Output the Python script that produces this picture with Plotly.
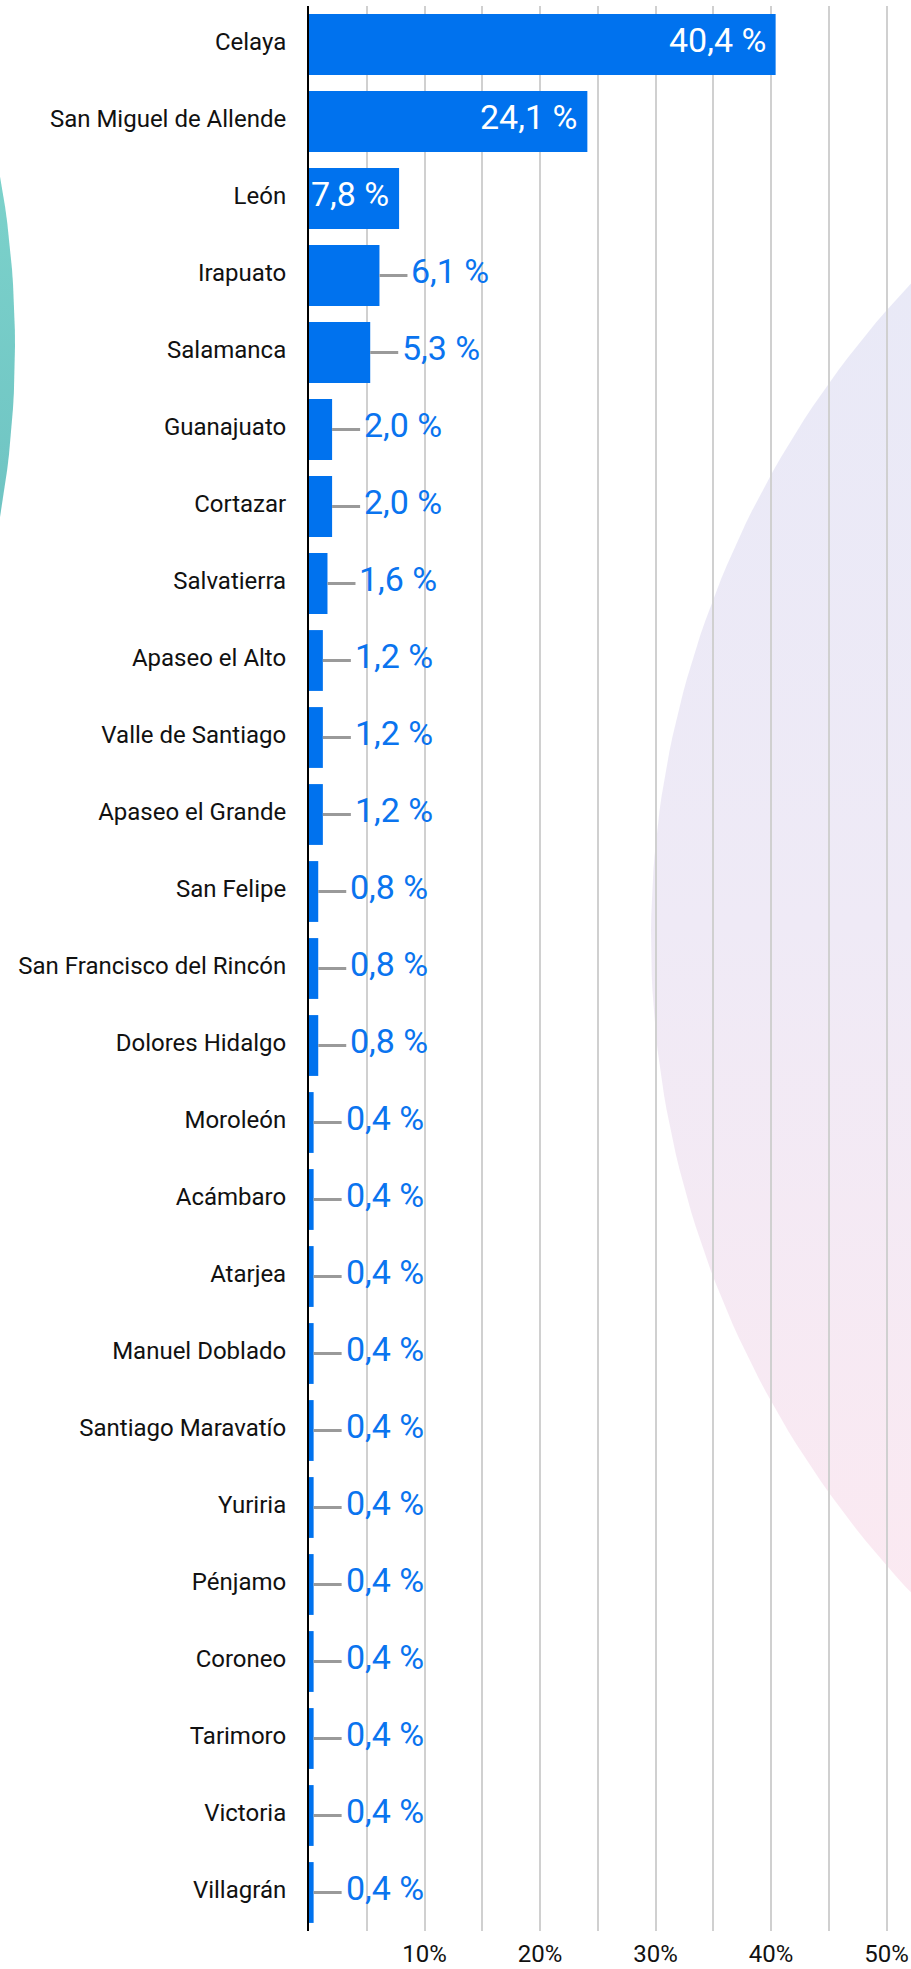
import numpy as np
import plotly.graph_objects as go

# ---------------- data ----------------
municipios = [
    "Celaya", "San Miguel de Allende", "León", "Irapuato", "Salamanca",
    "Guanajuato", "Cortazar", "Salvatierra", "Apaseo el Alto", "Valle de Santiago",
    "Apaseo el Grande", "San Felipe", "San Francisco del Rincón", "Dolores Hidalgo",
    "Moroleón", "Acámbaro", "Atarjea", "Manuel Doblado", "Santiago Maravatío",
    "Yuriria", "Pénjamo", "Coroneo", "Tarimoro", "Victoria", "Villagrán",
]
porcentajes = [
    40.4, 24.1, 7.8, 6.1, 5.3,
    2.0, 2.0, 1.6, 1.2, 1.2,
    1.2, 0.8, 0.8, 0.8,
    0.4, 0.4, 0.4, 0.4, 0.4,
    0.4, 0.4, 0.4, 0.4, 0.4, 0.4,
]
tick_vals = [5, 10, 15, 20, 25, 30, 35, 40, 45, 50]
tick_text = ["", "10%", "", "20%", "", "30%", "", "40%", "", "50%"]

# ---------------- layout constants ----------------
W, H = 911, 1969
PLOT_L, PLOT_T, PLOT_B = 309, 6, 1931
X_MAX = 52.12
BAR_COLOR = "#0072EE"
LABEL_BLUE = "#0A74EF"
FONT = "Roboto"

fig = go.Figure()

# ---------------- decorative background circles (pixel space subplot) ----------------
def circle(cx, cy, r, n=400):
    t = np.linspace(0, 2 * np.pi, n)
    return cx + r * np.cos(t), cy + r * np.sin(t)

tx, ty = circle(-967, 346, 982)
fig.add_trace(go.Scatter(
    x=tx, y=ty, mode="lines", fill="toself", line=dict(width=0),
    fillgradient=dict(type="vertical", start=170, stop=520,
                      colorscale=[[0, "#7CD2CB"], [1, "#6FC4C3"]]),
    hoverinfo="skip", showlegend=False, xaxis="x", yaxis="y",
))
lx, ly = circle(1605, 938, 954)
fig.add_trace(go.Scatter(
    x=lx, y=ly, mode="lines", fill="toself", line=dict(width=0),
    fillgradient=dict(type="vertical", start=200, stop=1650,
                      colorscale=[[0, "#E8E9F7"], [0.5, "#EFEAF6"], [1, "#FCE9F1"]]),
    hoverinfo="skip", showlegend=False, xaxis="x", yaxis="y",
))

# ---------------- bars ----------------
fig.add_trace(go.Bar(
    x=porcentajes, y=municipios, orientation="h",
    marker=dict(color=BAR_COLOR, line=dict(width=0)),
    hoverinfo="skip", showlegend=False, xaxis="x2", yaxis="y2",
))

# ---------------- value labels ----------------
annotations = []
for m, v in zip(municipios, porcentajes):
    txt = f"{v:.1f}".replace(".", ",") + " %"
    if v >= 7:
        annotations.append(dict(
            x=v, y=m, xref="x2", yref="y2", text=txt, showarrow=False,
            xanchor="right", yanchor="middle", xshift=-8, yshift=5,
            font=dict(family=FONT, size=34, color="white"),
        ))
    else:
        annotations.append(dict(
            x=v, y=m, xref="x2", yref="y2", text="", showarrow=True,
            arrowhead=0, arrowwidth=3, arrowcolor="#9A9A9A",
            ax=28, ay=0, axref="pixel", ayref="pixel",
            xanchor="left", yanchor="middle", standoff=0, startstandoff=0,
        ))
        annotations.append(dict(
            x=v, y=m, xref="x2", yref="y2", text=txt, showarrow=False,
            xanchor="left", yanchor="middle", xshift=30, yshift=5,
            font=dict(family=FONT, size=34, color=LABEL_BLUE),
        ))

fig.update_layout(
    width=W, height=H,
    margin=dict(l=0, r=0, t=0, b=0),
    paper_bgcolor="white",
    plot_bgcolor="rgba(0,0,0,0)",
    bargap=0.21,
    showlegend=False,
    annotations=annotations,
    xaxis=dict(domain=[0, 1], range=[0, W], visible=False, fixedrange=True),
    yaxis=dict(domain=[0, 1], range=[H, 0], visible=False, fixedrange=True),
    xaxis2=dict(
        domain=[PLOT_L / W, 1], range=[0, X_MAX], anchor="y2",
        tickmode="array", tickvals=tick_vals, ticktext=tick_text,
        showgrid=True, gridcolor="#D0D0D0", gridwidth=2,
        zeroline=False, showline=False, ticks="",
        tickfont=dict(family=FONT, size=24, color="#111111"),
        ticklabelstandoff=6, fixedrange=True,
    ),
    yaxis2=dict(
        domain=[(H - PLOT_B) / H, 1 - PLOT_T / H], anchor="x2",
        categoryorder="array", categoryarray=municipios, autorange="reversed",
        showgrid=False, zeroline=False,
        showline=True, linecolor="black", linewidth=2,
        ticks="", tickfont=dict(family=FONT, size=24, color="#111111"),
        ticklabelstandoff=16, ticklabelshift=3, fixedrange=True,
    ),
)

fig.write_html("out.html", config={"displayModeBar": False},
               post_script="document.body.style.margin='0';")
